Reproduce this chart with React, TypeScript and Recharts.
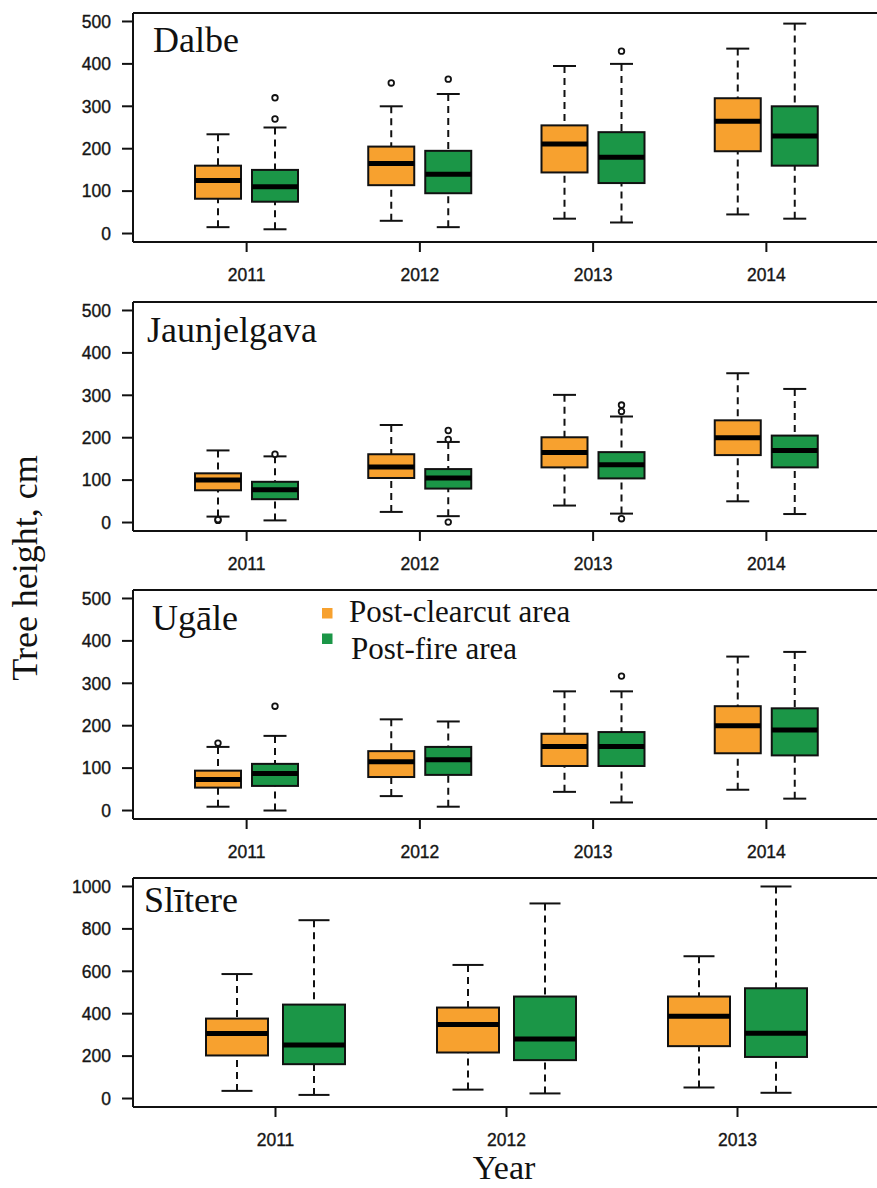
import React from 'react';
import { ComposedChart, Bar, XAxis, YAxis, ReferenceLine } from 'recharts';

const ORANGE = '#F7A12F';
const GREEN = '#1B9647';
const INK = '#111111';

const years4 = ['2011', '2012', '2013', '2014'];
const years3 = ['2011', '2012', '2013'];
const ticks500 = [0, 100, 200, 300, 400, 500];
const ticks1000 = [0, 200, 400, 600, 800, 1000];

// stats: [lower whisker, Q1, median, Q3, upper whisker]
const dalbeClearcut = [[15, 82, 125, 160, 234], [30, 114, 165, 205, 300], [35, 144, 211, 255, 395], [45, 194, 265, 319, 436]];
const dalbeFire = [[10, 75, 110, 150, 250], [15, 95, 140, 195, 329], [26, 119, 180, 239, 400], [35, 160, 230, 300, 495]];
const dalbeClearcutOut = [[], [355], [], []];
const dalbeFireOut = [[320, 270], [364], [430], []];

const jaunClearcut = [[14, 76, 100, 116, 170], [25, 105, 131, 161, 230], [40, 130, 165, 201, 301], [50, 159, 200, 241, 352]];
const jaunFire = [[5, 55, 77, 96, 156], [15, 80, 105, 126, 190], [21, 104, 136, 166, 250], [20, 130, 170, 205, 315]];
const jaunClearcutOut = [[5, 7], [], [], []];
const jaunFireOut = [[161], [217, 196, 1], [277, 262, 9], []];

const ugaleClearcut = [[9, 54, 73, 94, 150], [34, 79, 115, 140, 215], [44, 105, 151, 181, 281], [49, 135, 200, 246, 363]];
const ugaleFire = [[0, 58, 87, 110, 176], [9, 84, 120, 150, 210], [19, 105, 151, 185, 281], [28, 130, 190, 241, 374]];
const ugaleClearcutOut = [[159], [], [], []];
const ugaleFireOut = [[246], [], [317], []];

const slitClearcut = [[36, 203, 307, 377, 587], [42, 217, 349, 429, 630], [52, 247, 388, 481, 671]];
const slitFire = [[17, 162, 252, 443, 841], [24, 181, 281, 481, 920], [27, 196, 308, 520, 1000]];
const slitClearcutOut = [[], [], []];
const slitFireOut = [[], [], []];

function buildRows(years: string[], cc: number[][], fire: number[][], ccOut: number[][], fireOut: number[][]) {
  return years.map((year, i) => ({
    year,
    cc: cc[i],
    fire: fire[i],
    ccOut: ccOut[i],
    fireOut: fireOut[i],
    ccRange: [cc[i][0], cc[i][4]],
    fireRange: [fire[i][0], fire[i][4]],
  }));
}

const makeBoxShape = (statsKey: string, outKey: string, color: string) => (props: any) => {
  const { x, y, width, height, payload } = props;
  if (!payload) return <g />;
  const s: number[] = payload[statsKey];
  const out: number[] = payload[outKey] || [];
  const top = Math.min(y, y + height);
  const bottom = Math.max(y, y + height);
  const lo = s[0];
  const hi = s[4];
  const py = (v: number) => bottom - ((v - lo) / (hi - lo)) * (bottom - top);
  const cx = x + width / 2;
  const ch = width / 4;
  return (
    <g>
      <line x1={cx} x2={cx} y1={py(hi)} y2={py(s[3])} stroke={INK} strokeWidth={2} strokeDasharray="7 5" />
      <line x1={cx} x2={cx} y1={py(lo)} y2={py(s[1])} stroke={INK} strokeWidth={2} strokeDasharray="7 5" />
      <line x1={cx - ch} x2={cx + ch} y1={py(hi)} y2={py(hi)} stroke={INK} strokeWidth={2} />
      <line x1={cx - ch} x2={cx + ch} y1={py(lo)} y2={py(lo)} stroke={INK} strokeWidth={2} />
      <rect x={x} y={py(s[3])} width={width} height={py(s[1]) - py(s[3])} fill={color} stroke={INK} strokeWidth={2} />
      <line x1={x} x2={x + width} y1={py(s[2])} y2={py(s[2])} stroke="#000" strokeWidth={5} />
      {out.map((v, k) => (
        <circle key={k} cx={cx} cy={py(v)} r={2.8} fill="white" stroke={INK} strokeWidth={1.8} />
      ))}
    </g>
  );
};

const tickFont = { fontSize: 17.5, fontFamily: "'Liberation Sans', Arial, sans-serif", fill: '#151515', stroke: '#151515', strokeWidth: 0.35 };

function Panel(props: { top: number; rows: any[]; domain: [number, number]; ticks: number[]; barSize: number; barGap: number }) {
  const { top, rows, domain, ticks, barSize, barGap } = props;
  return (
    <div style={{ position: 'absolute', left: 0, top, width: 900, height: 286 }}>
      <ComposedChart width={900} height={286} data={rows} margin={{ top: 10, right: 20, bottom: 0, left: 73 }} barGap={barGap}>
        <XAxis
          dataKey="year"
          type="category"
          padding={{ left: 27, right: 27 }}
          height={47}
          tickSize={10}
          tickMargin={17}
          interval={0}
          axisLine={{ stroke: INK, strokeWidth: 2 }}
          tickLine={{ stroke: INK, strokeWidth: 2 }}
          tick={tickFont}
        />
        <YAxis
          type="number"
          domain={domain}
          ticks={ticks}
          allowDataOverflow
          width={60}
          tickSize={11}
          tickMargin={11}
          interval={0}
          axisLine={{ stroke: INK, strokeWidth: 2 }}
          tickLine={{ stroke: INK, strokeWidth: 2 }}
          tick={tickFont}
        />
        <ReferenceLine y={domain[1]} stroke={INK} strokeWidth={2} />
        <Bar dataKey="ccRange" barSize={barSize} shape={makeBoxShape('cc', 'ccOut', ORANGE)} isAnimationActive={false} />
        <Bar dataKey="fireRange" barSize={barSize} shape={makeBoxShape('fire', 'fireOut', GREEN)} isAnimationActive={false} />
      </ComposedChart>
    </div>
  );
}

const dalbeRows = buildRows(years4, dalbeClearcut, dalbeFire, dalbeClearcutOut, dalbeFireOut);
const jaunRows = buildRows(years4, jaunClearcut, jaunFire, jaunClearcutOut, jaunFireOut);
const ugaleRows = buildRows(years4, ugaleClearcut, ugaleFire, ugaleClearcutOut, ugaleFireOut);
const slitRows = buildRows(years3, slitClearcut, slitFire, slitClearcutOut, slitFireOut);

export default function App() {
  const serif = "'Liberation Serif', 'Times New Roman', serif";
  return (
    <div style={{ position: 'absolute', left: 0, top: 0, width: 877, height: 1188, overflow: 'hidden', background: '#fff' }}>
      <Panel top={3} rows={dalbeRows} domain={[-20, 520]} ticks={ticks500} barSize={46} barGap={11} />
      <Panel top={291.5} rows={jaunRows} domain={[-20, 520]} ticks={ticks500} barSize={46} barGap={11} />
      <Panel top={580} rows={ugaleRows} domain={[-20, 520]} ticks={ticks500} barSize={46} barGap={11} />
      <Panel top={868} rows={slitRows} domain={[-40, 1040]} ticks={ticks1000} barSize={62} barGap={15} />
      <svg width={877} height={1188} style={{ position: 'absolute', left: 0, top: 0, pointerEvents: 'none' }}>
        <g fontFamily={serif} fill={INK}>
          <text x={153} y={52} fontSize={36}>Dalbe</text>
          <text x={147} y={342} fontSize={36}>Jaunjelgava</text>
          <text x={152} y={630} fontSize={36}>Ugāle</text>
          <text x={144} y={912} fontSize={36}>Slītere</text>
          <rect x={322} y={608} width={10.5} height={10.5} fill={ORANGE} />
          <rect x={322} y={633.5} width={10.5} height={10.5} fill={GREEN} />
          <text x={349} y={622} fontSize={31}>Post-clearcut area</text>
          <text x={351} y={659} fontSize={31}>Post-fire area</text>
          <text x={504} y={1179} fontSize={34} textAnchor="middle">Year</text>
          <text transform="translate(37,568) rotate(-90)" fontSize={36} textAnchor="middle">Tree height, cm</text>
        </g>
      </svg>
    </div>
  );
}
